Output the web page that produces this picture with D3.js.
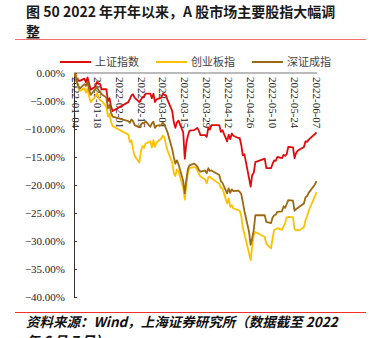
<!DOCTYPE html>
<html>
<head>
<meta charset="utf-8">
<script src="https://cdn.jsdelivr.net/npm/d3@7"></script>
<style>
  html, body { margin: 0; padding: 0; background: #fff; }
  svg { display: block; }
</style>
</head>
<body>
<svg id="chart" width="380" height="338"></svg>
<script>
// Trading days of 2022 (Jan 4 – Jun 7)
const tradeDates = [
  "01-04","01-05","01-06","01-07","01-10","01-11","01-12","01-13","01-14","01-17",
  "01-18","01-19","01-20","01-21","01-24","01-25","01-26","01-27","01-28",
  "02-07","02-08","02-09","02-10","02-11","02-14","02-15","02-16","02-17","02-18",
  "02-21","02-22","02-23","02-24","02-25","02-28",
  "03-01","03-02","03-03","03-04","03-07","03-08","03-09","03-10","03-11","03-14",
  "03-15","03-16","03-17","03-18","03-21","03-22","03-23","03-24","03-25","03-28",
  "03-29","03-30","03-31",
  "04-01","04-06","04-07","04-08","04-11","04-12","04-13","04-14","04-15","04-18",
  "04-19","04-20","04-21","04-22","04-25","04-26","04-27","04-28","04-29",
  "05-05","05-06","05-09","05-10","05-11","05-12","05-13","05-16","05-17","05-18",
  "05-19","05-20","05-23","05-24","05-25","05-26","05-27","05-30","05-31",
  "06-01","06-02","06-06","06-07"
];

// Cumulative change since the start of the year, %
const sseIndex = [
  0, -1.0, -1.3, -1.4, -1.0, -1.7, -0.8, -1.9, -3.0, -2.4, -1.6, -1.9, -2.0, -2.9, -2.9, -5.0, -4.5, -6.0, -6.8,
  -5.2, -4.6, -4.0, -3.8, -4.4, -5.2, -4.8, -4.3, -4.2, -3.7, -3.7, -4.5, -3.7, -5.2, -4.7, -4.4,
  -3.7, -3.9, -4.0, -4.8, -6.8, -8.8, -9.8, -8.8, -8.5, -10.6, -15.3, -12.5, -11.2, -10.3, -10.2, -10.0, -9.8, -10.3, -11.1, -11.1, -11.4, -9.8, -10.1,
  -9.3, -9.3, -10.5, -10.2, -12.2, -11.0, -11.8, -10.8, -11.2, -11.6, -11.6, -12.8, -14.7, -14.5, -18.8, -20.3, -18.2, -17.8, -15.9,
  -15.3, -17.0, -17.0, -16.2, -15.6, -15.7, -15.0, -15.2, -14.6, -14.8, -14.5, -13.2, -13.3, -15.2, -14.3, -13.9, -13.7, -13.2, -12.2,
  -12.3, -11.9, -10.9, -10.6
];
const chinext = [
  0, -1.5, -2.4, -3.2, -2.7, -3.5, -2.8, -4.2, -5.2, -4.2, -3.6, -4.3, -4.9, -5.0, -6.0, -7.8, -7.3, -8.8, -9.5,
  -11.0, -12.4, -12.0, -13.6, -14.8, -16.0, -14.0, -13.0, -13.4, -12.6, -12.2, -13.3, -12.0, -13.2, -12.4, -11.7,
  -11.2, -11.5, -12.8, -13.8, -16.0, -17.9, -18.4, -17.2, -17.6, -20.5, -22.6, -20.0, -17.8, -17.0, -16.8, -16.9, -17.3, -18.0, -18.5, -19.0, -19.7, -18.6, -18.5,
  -18.8, -19.8, -20.5, -20.6, -23.3, -22.4, -23.9, -23.6, -24.2, -24.5, -24.6, -25.5, -27.6, -28.7, -32.2, -33.4, -31.0, -28.9, -28.4,
  -29.3, -30.5, -31.3, -29.5, -28.0, -27.9, -27.7, -28.0, -27.4, -26.8, -25.8, -25.7, -25.8, -27.9, -28.1, -28.0, -28.1, -27.5, -26.3,
  -25.6, -24.6, -22.0, -21.3
];
const szComponent = [
  0, -1.5, -2.2, -2.8, -2.0, -2.3, -1.6, -3.0, -3.9, -2.9, -2.6, -3.1, -3.4, -3.8, -4.4, -6.3, -5.7, -7.1, -7.8,
  -8.6, -8.9, -8.3, -8.6, -9.3, -9.7, -9.2, -8.9, -9.0, -8.6, -9.6, -9.0, -8.7, -9.8, -9.4, -9.3,
  -8.9, -9.2, -9.9, -10.6, -13.6, -15.0, -16.2, -15.6, -16.3, -19.3, -21.5, -19.1, -17.1, -16.5, -16.2, -16.4, -16.7, -17.3, -17.6, -17.4, -17.9, -17.0, -17.5,
  -17.4, -18.2, -19.3, -19.6, -21.5, -20.6, -21.4, -20.8, -21.1, -21.0, -21.2, -21.6, -23.0, -24.6, -28.4, -30.7, -29.5, -28.0, -25.4,
  -25.4, -26.6, -26.8, -25.8, -25.4, -25.3, -24.8, -24.7, -23.8, -24.1, -23.4, -22.7, -22.8, -24.6, -24.3, -24.1, -23.9, -23.3, -22.2,
  -22.0, -21.4, -19.9, -19.3
];

const seriesNames = ["上证指数", "创业板指", "深证成指"];
const seriesColors = ["#e00c0c", "#ffc000", "#9c6a12"];
const dateTicks = ["2022-01-04","2022-01-18","2022-02-01","2022-02-15","2022-03-01","2022-03-15",
                   "2022-03-29","2022-04-12","2022-04-26","2022-05-10","2022-05-24","2022-06-07"];
const yTicks = [0, -5, -10, -15, -20, -25, -30, -35, -40];

const titleLines = ["图 50 2022 年开年以来，A 股市场主要股指大幅调", "整"];
const sourceLines = ["资料来源：Wind，上海证券研究所（数据截至 2022", "年 6 月 7 日）"];

const parseDay = d3.timeParse("%Y-%m-%d");
const dates = tradeDates.map(d => parseDay("2022-" + d));
const allSeries = [sseIndex, chinext, szComponent];

const svg = d3.select("#chart");

// Title
svg.append("g").selectAll("text").data(titleLines).join("text")
  .attr("x", 26).attr("y", (d, i) => 17 + i * 20)
  .attr("font-family", "'Noto Sans CJK SC', sans-serif")
  .attr("font-weight", "bold").attr("font-size", 14)
  .attr("fill", "#1a1a1a").text(d => d);

svg.append("line").attr("x1", 15).attr("x2", 366).attr("y1", 39.5).attr("y2", 39.5)
  .attr("stroke", "#f07070").attr("stroke-width", 1.2);

// Scales
const x = d3.scaleTime().domain([parseDay("2022-01-04"), parseDay("2022-06-07")]).range([75, 316.5]);
const y = d3.scaleLinear().domain([-40, 0]).range([297, 73]);

// Y axis (left, ticks pointing inward)
const yAxis = d3.axisRight(y).tickValues(yTicks).tickSize(3).tickFormat(d => d3.format(".2f")(d) + "%");
const gy = svg.append("g").attr("transform", "translate(74,0)").call(yAxis);
gy.select(".domain").attr("stroke", "#333");
gy.selectAll(".tick line").attr("stroke", "#333");
gy.selectAll(".tick text")
  .attr("x", -9).attr("text-anchor", "end")
  .attr("font-family", "'Liberation Serif', 'Times New Roman', serif")
  .attr("font-size", 11).attr("fill", "#222");

// X axis along the top, date labels rotated
const xAxis = d3.axisTop(x).tickValues(dateTicks.map(parseDay)).tickSize(0).tickFormat(d3.timeFormat("%Y-%m-%d"));
const gx = svg.append("g").attr("transform", "translate(0,73)").call(xAxis);
gx.select(".domain").attr("d", "M74,0H317").attr("stroke", "#777");
gx.selectAll(".tick text")
  .attr("transform", "translate(0,4) rotate(90)")
  .attr("x", 0).attr("y", 0).attr("dy", "0.35em")
  .attr("text-anchor", "start")
  .attr("font-family", "'Liberation Serif', 'Times New Roman', serif")
  .attr("font-size", 11).attr("fill", "#222");

// Lines
const line = d3.line().x((d, i) => x(dates[i])).y(d => y(d));
svg.append("g").selectAll("path").data(allSeries).join("path")
  .attr("d", d => line(d))
  .attr("fill", "none")
  .attr("stroke", (d, i) => seriesColors[i])
  .attr("stroke-width", 1.8)
  .attr("stroke-linejoin", "round");

// Legend
const legendX = [60, 156, 252];
const lg = svg.append("g").selectAll("g").data(seriesNames).join("g")
  .attr("transform", (d, i) => `translate(${legendX[i]},62)`);
lg.append("line").attr("x1", 0).attr("x2", 31).attr("stroke", (d, i) => seriesColors[i]).attr("stroke-width", 2);
lg.append("text").attr("x", 35).attr("dy", "0.35em")
  .attr("font-family", "'Noto Sans CJK SC', sans-serif")
  .attr("font-size", 11).attr("fill", "#444").text(d => d);

// Source note
svg.append("line").attr("x1", 15).attr("x2", 366).attr("y1", 312.5).attr("y2", 312.5)
  .attr("stroke", "#f03030").attr("stroke-width", 1.2);
svg.append("g").selectAll("text").data(sourceLines).join("text")
  .attr("x", 26).attr("y", (d, i) => 327 + i * 19)
  .attr("font-family", "'Noto Sans CJK SC', sans-serif")
  .attr("font-weight", "bold").attr("font-style", "italic").attr("font-size", 13.5)
  .attr("fill", "#111").text(d => d);
</script>
</body>
</html>
